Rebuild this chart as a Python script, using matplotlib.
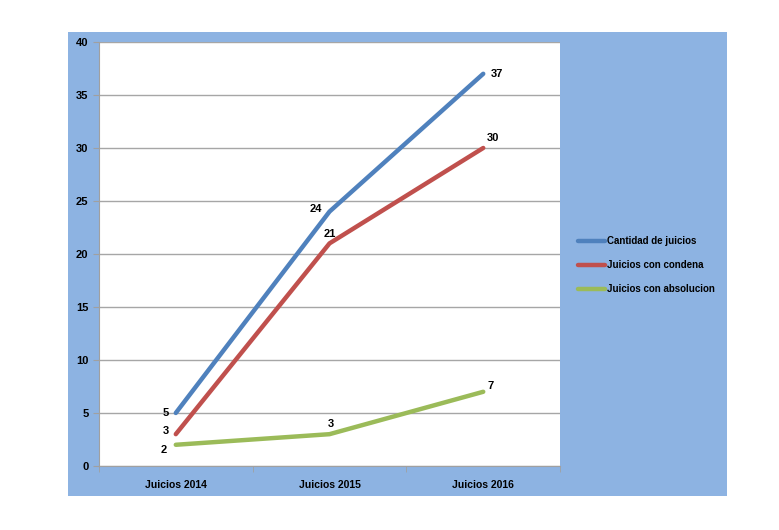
import matplotlib.pyplot as plt
from matplotlib.patches import Rectangle

plt.rcParams['font.family'] = ['Liberation Sans', 'DejaVu Sans']

categories = ["Juicios 2014", "Juicios 2015", "Juicios 2016"]
cantidad = [5, 24, 37]
condena = [3, 21, 30]
absolucion = [2, 3, 7]

series_names = ["Cantidad de juicios", "Juicios con condena", "Juicios con absolucion"]
colors = ["#4F81BD", "#C0504D", "#9BBB59"]

fig = plt.figure(figsize=(7.79, 5.30), dpi=100)
fig.patch.set_facecolor("white")

# blue chart background
fig.patches.append(Rectangle((0.0873, 0.0642), 0.846, 0.875, transform=fig.transFigure,
                             facecolor="#8DB3E2", edgecolor="none", zorder=0))

ax = fig.add_axes([0.127, 0.1208, 0.592, 0.80])
ax.set_zorder(2)
ax.set_facecolor("white")

x = list(range(len(categories)))
for vals, name, c in zip([cantidad, condena, absolucion], series_names, colors):
    ax.plot(x, vals, color=c, linewidth=3.2, label=name, solid_capstyle="round", zorder=3)

# data labels
lab = dict(fontsize=8, fontweight="bold", color="black")
ax.annotate(str(cantidad[0]), (0, cantidad[0]), xytext=(-7, 0), textcoords="offset points", ha="center", va="center", **lab)
ax.annotate(str(cantidad[1]), (1, cantidad[1]), xytext=(-10, 2), textcoords="offset points", ha="center", va="center", **lab)
ax.annotate(str(cantidad[2]), (2, cantidad[2]), xytext=(10, 0), textcoords="offset points", ha="center", va="center", **lab)
ax.annotate(str(condena[0]), (0, condena[0]), xytext=(-7, 2), textcoords="offset points", ha="center", va="center", **lab)
ax.annotate(str(condena[1]), (1, condena[1]), xytext=(0, 7), textcoords="offset points", ha="center", va="center", **lab)
ax.annotate(str(condena[2]), (2, condena[2]), xytext=(7, 7), textcoords="offset points", ha="center", va="center", **lab)
ax.annotate(str(absolucion[0]), (0, absolucion[0]), xytext=(-9, -4), textcoords="offset points", ha="center", va="center", **lab)
ax.annotate(str(absolucion[1]), (1, absolucion[1]), xytext=(1, 7), textcoords="offset points", ha="center", va="center", **lab)
ax.annotate(str(absolucion[2]), (2, absolucion[2]), xytext=(5, 4), textcoords="offset points", ha="center", va="center", **lab)

ax.set_xlim(-0.5, 2.5)
ax.set_ylim(0, 40)
ax.set_yticks(range(0, 41, 5))
ax.set_xticks(x)
ax.set_xticklabels(categories, fontsize=7.5, fontweight="bold")
ax.set_xticks([-0.5, 0.5, 1.5, 2.5], minor=True)
ax.tick_params(axis="x", which="major", length=0, pad=10)
ax.tick_params(axis="x", which="minor", length=4, color="#A0A0A0")
ax.tick_params(axis="y", length=4, color="#A0A0A0", labelsize=8)
for t in ax.get_yticklabels():
    t.set_fontweight("bold")

ax.grid(axis="y", color="#A6A6A6", linewidth=1)
ax.set_axisbelow(True)
for s in ["top", "right"]:
    ax.spines[s].set_visible(False)
for s in ["left", "bottom"]:
    ax.spines[s].set_color("#A0A0A0")

leg = fig.legend(loc="center left", bbox_to_anchor=(0.731, 0.5), frameon=False,
                 fontsize=7, handlelength=2.8, labelspacing=1.45, handletextpad=0.15)
leg.set_zorder(3)
for t in leg.get_texts():
    t.set_fontweight("bold")

fig.savefig("out.png", dpi=100)
